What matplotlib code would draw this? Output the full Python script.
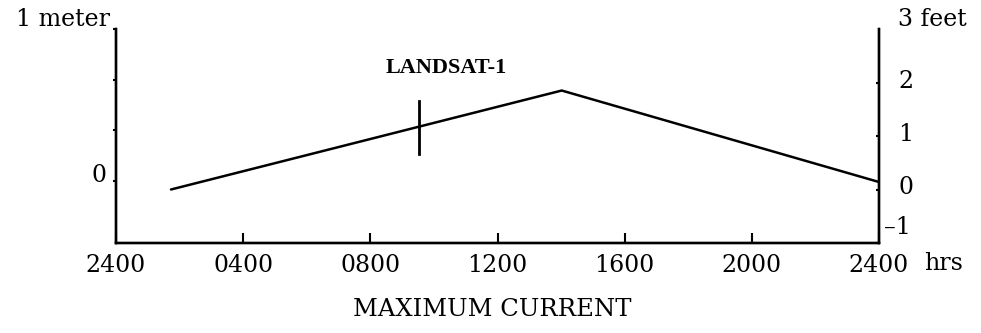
import matplotlib
matplotlib.use("Agg")
import matplotlib.pyplot as plt
import matplotlib.transforms as mtransforms

# Data (hours after 2400, tide height in feet)
hours = [1.73, 14.02, 24.0]
feet = [0.0, 1.85, 0.14]

landsat_hour = 9.53
landsat_mark = [0.66, 1.66]  # feet

x_ticks = [0, 4, 8, 12, 16, 20, 24]
x_labels = ["2400", "0400", "0800", "1200", "1600", "2000", "2400"]
ft_ticks = [-1, 0, 1, 2]
ft_labels = ["\u20131", "0", "1", "2"]
m_ticks = [0, 1/3, 2/3, 1]

plt.rcParams['font.family'] = ['DejaVu Serif']
FS = 17

fig = plt.figure(figsize=(9.81, 3.33), dpi=100)
ax = fig.add_axes([116/981, 1-243/333, (879-116)/981, (243-29)/333])
ax.set_xlim(0, 24)
ax.set_ylim(-(245-182)/154, (182-29)/154)
axr = ax.twinx()
axr.set_ylim(-(245-193)/54.7, 3.0)

for a in (ax, axr):
    a.spines['top'].set_visible(False)
    for s in a.spines.values():
        s.set_linewidth(1.7)

# x ticks
ax.set_xticks(x_ticks)
ax.set_xticklabels(x_labels, fontsize=FS)
ax.tick_params(axis='x', direction='in', length=7, width=1.5, pad=8)

# left (meters)
ax.set_yticks(m_ticks)
ax.set_yticklabels(["0", "", "", ""], fontsize=FS)
ax.tick_params(axis='y', direction='out', length=2.5, width=1.5, pad=4)
for lab in ax.get_yticklabels():
    lab.set_transform(lab.get_transform() + mtransforms.ScaledTranslation(0, 8/100, fig.dpi_scale_trans))

# right (feet)
axr.set_yticks(ft_ticks)
axr.set_yticklabels(ft_labels, fontsize=FS)
axr.tick_params(axis='y', direction='in', length=2.5, width=1.5, pad=14)
for i, lab in enumerate(axr.get_yticklabels()):
    if ft_ticks[i] == -1:
        off = mtransforms.ScaledTranslation(-14/100, 18/100, fig.dpi_scale_trans)
    else:
        off = mtransforms.ScaledTranslation(0, 4/100, fig.dpi_scale_trans)
    lab.set_transform(lab.get_transform() + off)

# line
axr.plot(hours, feet, color='black', lw=1.8, solid_capstyle='round')
axr.plot([landsat_hour, landsat_hour], landsat_mark, color='black', lw=2.0)
axr.text(landsat_hour + 0.85, 2.28, "LANDSAT-1", fontsize=16, fontweight='bold',
         family='Liberation Serif', ha='center', va='center')

# axis unit labels
fig.text(110/981, 1-20/333, "1 meter", fontsize=FS, ha='right', va='center')
fig.text(898/981, 1-20/333, "3 feet", fontsize=FS, ha='left', va='center')
fig.text(924/981, 1-263/333, "hrs", fontsize=FS, ha='left', va='center')
fig.text(492/981, 1-310/333, "MAXIMUM CURRENT", fontsize=17.5, ha='center', va='center')

fig.savefig("out.png", dpi=100)
